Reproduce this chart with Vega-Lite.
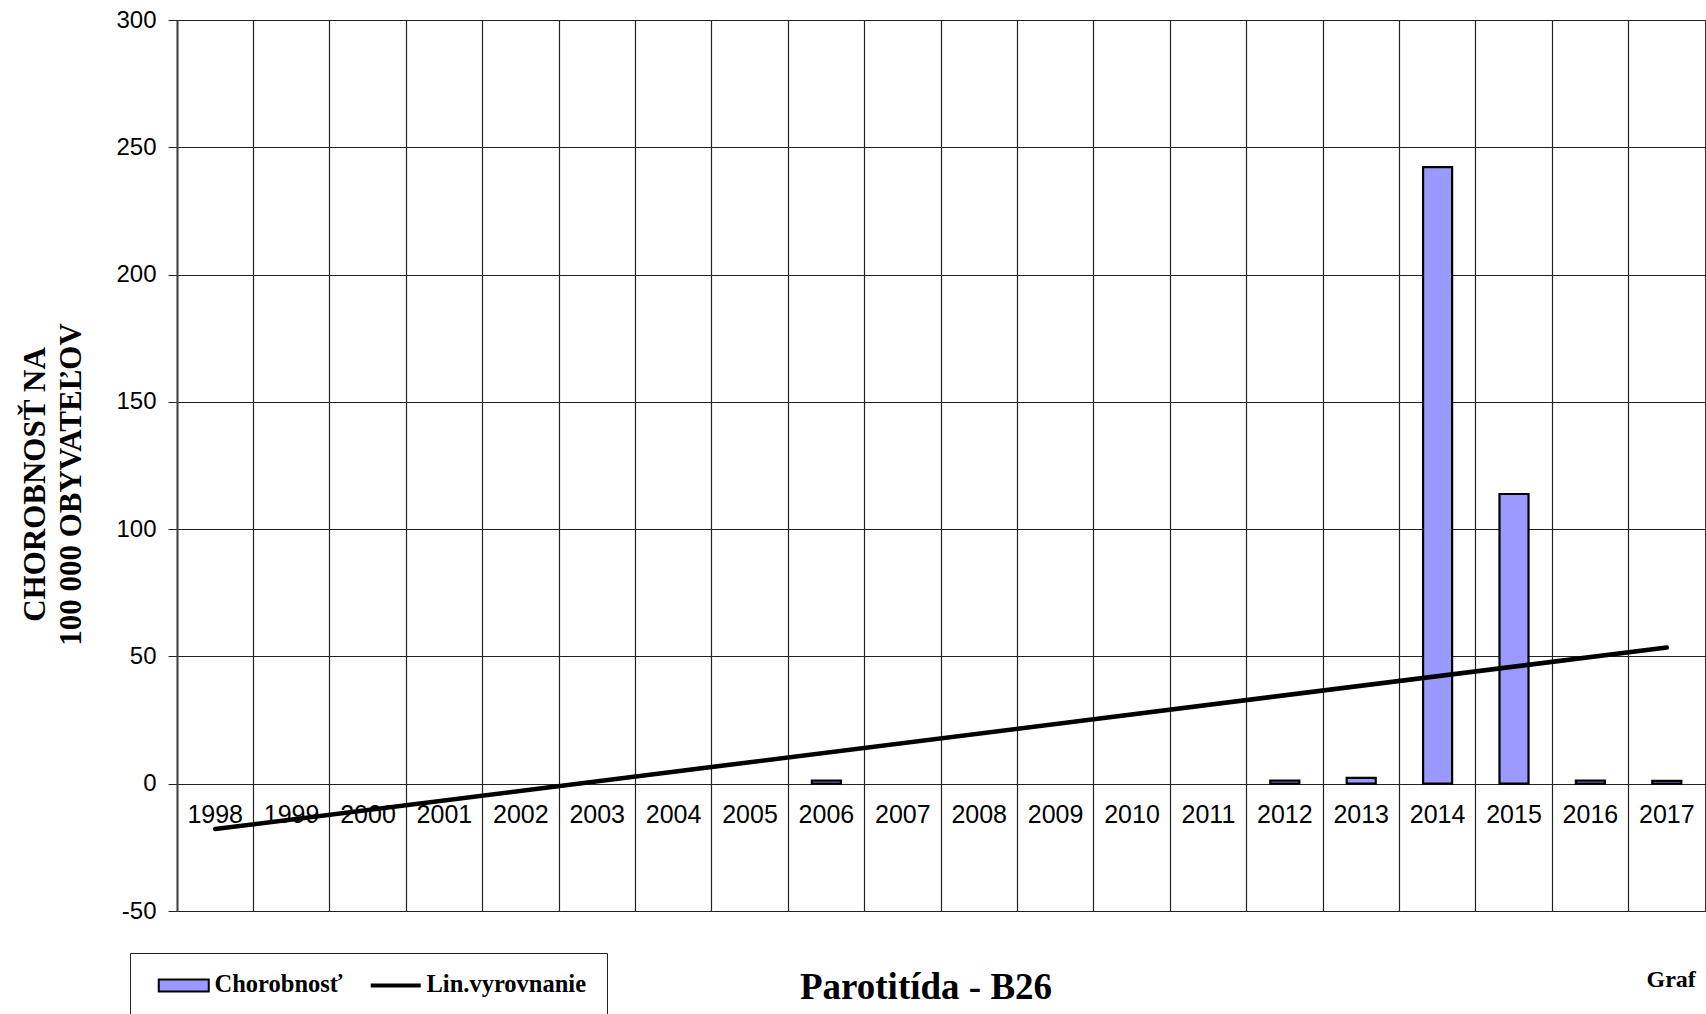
{
  "$schema": "https://vega.github.io/schema/vega-lite/v6.json",
  "width": 1528,
  "height": 891,
  "autosize": {"type": "none"},
  "padding": {"left": 177, "top": 20, "right": 1, "bottom": 103},
  "background": "white",
  "config": {"view": {"stroke": "#333", "strokeWidth": 1}},
  "title": {
    "text": "Parotitída - B26",
    "orient": "top",
    "anchor": "middle",
    "font": "Liberation Serif",
    "fontSize": 37,
    "fontWeight": "bold",
    "color": "black",
    "offset": 0,
    "dx": -15,
    "dy": 999
  },
  "datasets": {
    "chorobnost": [
      {"rok": 2006, "hodnota": 1.2},
      {"rok": 2012, "hodnota": 1.2},
      {"rok": 2013, "hodnota": 2.3},
      {"rok": 2014, "hodnota": 242.2},
      {"rok": 2015, "hodnota": 113.8},
      {"rok": 2016, "hodnota": 1.2},
      {"rok": 2017, "hodnota": 1.1}
    ],
    "trend": [
      {"rok": 1998, "hodnota": -17.8},
      {"rok": 2017, "hodnota": 53.5}
    ]
  },
  "encoding": {
    "x": {
      "field": "rok",
      "type": "ordinal",
      "scale": {
        "domain": [1998, 1999, 2000, 2001, 2002, 2003, 2004, 2005, 2006, 2007, 2008, 2009, 2010, 2011, 2012, 2013, 2014, 2015, 2016, 2017],
        "paddingInner": 0,
        "paddingOuter": 0
      },
      "axis": {
        "title": "Graf",
        "titleX": 1469,
        "titleY": 68,
        "titleAlign": "left",
        "titleBaseline": "middle",
        "titleFont": "Liberation Serif",
        "titleFontSize": 24,
        "titleFontWeight": "bold",
        "titleColor": "black",
        "labelAngle": 0,
        "labelFont": "Liberation Sans",
        "labelFontSize": 25,
        "labelColor": "black",
        "labelPadding": -109,
        "labelBaseline": "top",
        "labelOverlap": false,
        "ticks": false,
        "tickSize": 0,
        "domain": false,
        "grid": true,
        "gridColor": "#222",
        "gridWidth": 1.2,
        "bandPosition": 0
      }
    },
    "y": {
      "field": "hodnota",
      "type": "quantitative",
      "scale": {"domain": [-50, 300], "nice": false, "zero": false},
      "axis": {
        "title": ["CHOROBNOSŤ  NA", "100 000 OBYVATEĽOV"],
        "titleFont": "Liberation Serif",
        "titleFontSize": 31,
        "titleFontWeight": "bold",
        "titleColor": "black",
        "titleX": -142,
        "titleY": 464,
        "titleAlign": "center",
        "titleBaseline": "middle",
        "titleLineHeight": 36,
        "values": [-50, 0, 50, 100, 150, 200, 250, 300],
        "labelExpr": "'' + datum.value",
        "grid": true,
        "gridColor": "#222",
        "gridWidth": 1.2,
        "tickSize": 9,
        "tickColor": "#222",
        "labelPadding": 12,
        "labelFont": "Liberation Sans",
        "labelFontSize": 24,
        "labelColor": "black",
        "domainColor": "#444",
        "domainWidth": 2
      }
    }
  },
  "layer": [
    {
      "data": {"name": "chorobnost"},
      "mark": {"type": "bar", "stroke": "black", "strokeWidth": 2.2, "width": {"band": 0.38}},
      "encoding": {
        "color": {
          "datum": "Chorobnosť",
          "type": "nominal",
          "scale": {"domain": ["Chorobnosť", "Lin.vyrovnanie"], "range": ["#9999FF", "#000000"]},
          "legend": {
            "title": null,
            "orient": "none",
            "legendX": -47,
            "legendY": 933,
            "direction": "horizontal",
            "columns": 2,
            "strokeColor": "#222",
            "fillColor": "white",
            "padding": 20,
            "symbolSize": 625,
            "labelFont": "Liberation Serif",
            "labelFontSize": 24.5,
            "labelFontWeight": "bold",
            "labelColor": "black",
            "labelOffset": 40,
            "columnPadding": 19,
            "labelLimit": 400,
            "encoding": {
              "symbols": {
                "shape": {"value": {"expr": "datum.index === 0 ? 'M-0.28,-0.48H3.72V0.48H-0.28Z' : 'M-0.28,0H3.72'"}},
                "stroke": {"value": "black"},
                "strokeWidth": {"value": {"expr": "datum.index === 0 ? 2 : 4"}},
                "opacity": {"value": 1}
              }
            }
          }
        }
      }
    },
    {
      "data": {"name": "trend"},
      "mark": {"type": "line", "color": "black", "strokeWidth": 4.5, "strokeCap": "round"},
      "encoding": {}
    }
  ]
}
